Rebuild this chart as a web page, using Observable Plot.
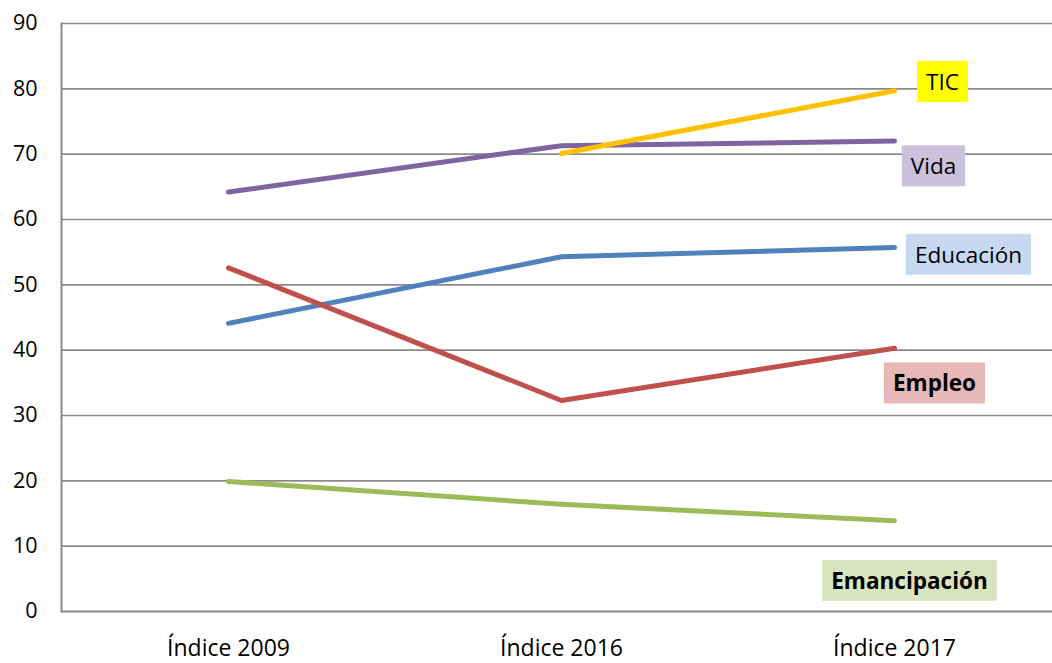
<!DOCTYPE html>
<html>
<head>
<meta charset="utf-8">
<script src="https://cdn.jsdelivr.net/npm/d3@7"></script>
<script src="https://cdn.jsdelivr.net/npm/@observablehq/plot@0.6"></script>
<style>
  html, body { margin: 0; padding: 0; background: #fff; }
  #chart svg { display: block; }
</style>
</head>
<body>
<div id="chart"></div>
<script>
const categories = ["Índice 2009", "Índice 2016", "Índice 2017"];
const educacion = [44.1, 54.3, 55.7];
const empleo = [52.6, 32.3, 40.3];
const emancipacion = [19.9, 16.4, 13.9];
const vida = [64.2, 71.3, 72.0];
const tic = [null, 70.1, 79.7];
const yTicks = [0, 10, 20, 30, 40, 50, 60, 70, 80, 90];

const series = [
  {name: "Educación", values: educacion, color: "#4F81BD", bg: "#C6D9F1", bold: false, dx: 74, dy: 8},
  {name: "Empleo", values: empleo, color: "#C0504D", bg: "#E6B9B8", bold: true, dx: 40, dy: 36},
  {name: "Emancipación", values: emancipacion, color: "#9BBB59", bg: "#D7E4BD", bold: true, dx: 15, dy: 61},
  {name: "Vida", values: vida, color: "#8064A2", bg: "#CCC1DA", bold: false, dx: 39, dy: 26},
  {name: "TIC", values: tic, color: "#FFC000", bg: "#FFFF00", bold: false, dx: 48, dy: -8}
];

const rows = series.flatMap(s => categories.map((c, i) => ({serie: s.name, cat: c, value: s.values[i]})))
  .filter(d => d.value != null);

const FONT = "'Open Sans', sans-serif";

const marks = [
  Plot.ruleY(yTicks.filter(t => t > 0), {stroke: "#8a8a8a", strokeWidth: 1.6}),
  Plot.ruleY([0], {stroke: "#8a8a8a", strokeWidth: 2}),
  Plot.frame({anchor: "left", stroke: "#8a8a8a", strokeWidth: 2}),
  Plot.axisY({ticks: yTicks, tickSize: 0, tickPadding: 24, fontSize: 21.5, label: null, fill: "#000"}),
  Plot.axisX({tickSize: 0, tickPadding: 28, fontSize: 23, label: null, fill: "#000"})
];

for (const s of series) {
  marks.push(Plot.line(rows.filter(d => d.serie === s.name), {
    x: "cat", y: "value", stroke: s.color, strokeWidth: 5, strokeLinecap: "round", strokeLinejoin: "round"
  }));
}
for (const s of series) {
  const last = rows.filter(d => d.serie === s.name).slice(-1);
  marks.push(Plot.text(last, {
    x: "cat", y: "value", text: () => s.name, dx: s.dx, dy: s.dy,
    fontSize: 22.5, fontWeight: s.bold ? "bold" : "normal", fill: "#000",
    textAnchor: "middle", lineAnchor: "middle", className: "lbl", stroke: s.bg
  }));
}

const chart = Plot.plot({
  width: 1052,
  height: 663,
  marginLeft: 61,
  marginRight: 0,
  marginTop: 23,
  marginBottom: 52,
  style: {fontFamily: FONT, background: "#fff", overflow: "visible"},
  x: {type: "point", domain: categories, range: [228, 894], padding: 0},
  y: {domain: [0, 90]},
  marks
});
document.getElementById("chart").appendChild(chart);

// label background boxes
chart.querySelectorAll("g.lbl").forEach(g => {
  const bg = g.getAttribute("stroke");
  g.removeAttribute("stroke");
  g.querySelectorAll("text").forEach(t => {
    t.removeAttribute("stroke");
    const b = t.getBBox();
    const cx = b.x + b.width / 2, cy = b.y + b.height / 2;
    const r = document.createElementNS("http://www.w3.org/2000/svg", "rect");
    const w = b.width + 18, h = 41;
    r.setAttribute("x", cx - w / 2);
    r.setAttribute("y", cy - h / 2);
    r.setAttribute("width", w);
    r.setAttribute("height", h);
    r.setAttribute("fill", bg);
    r.setAttribute("stroke", "none");
    const tr = t.getAttribute("transform");
    if (tr) r.setAttribute("transform", tr);
    t.parentNode.insertBefore(r, t);
  });
});
</script>
</body>
</html>
